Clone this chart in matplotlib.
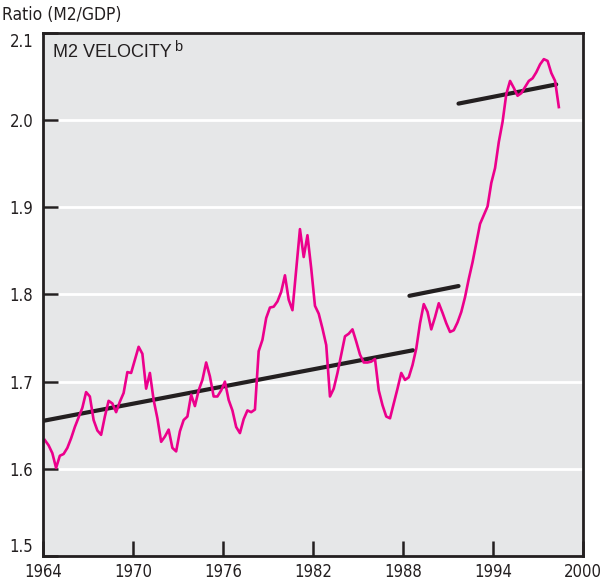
import matplotlib
matplotlib.use("Agg")
import matplotlib.pyplot as plt
from matplotlib import font_manager
import numpy as np

# condensed face for ticks and axis label, if it is there
narrow = None
for f in font_manager.fontManager.ttflist:
    if 'Narrow' in f.name or ('Condensed' in f.fname and 'Bold' not in f.fname and 'Oblique' not in f.fname and 'Sans' in f.name):
        narrow = f
        break

plt.rcParams['font.family'] = ['Liberation Sans', 'DejaVu Sans']

# quarterly M2 velocity, first quarter 1964 onwards
start_year = 1964
m2_velocity = [
    1.633, 1.627, 1.618, 1.601, 1.615, 1.617, 1.624, 1.635,
    1.648, 1.659, 1.670, 1.688, 1.683, 1.656, 1.644, 1.639,
    1.660, 1.678, 1.675, 1.665, 1.677, 1.687, 1.711, 1.710,
    1.725, 1.740, 1.732, 1.692, 1.710, 1.679, 1.658, 1.631,
    1.637, 1.645, 1.624, 1.620, 1.643, 1.656, 1.660, 1.685,
    1.672, 1.690, 1.702, 1.722, 1.706, 1.683, 1.683, 1.690,
    1.700, 1.679, 1.667, 1.648, 1.641, 1.657, 1.667, 1.665,
    1.668, 1.735, 1.748, 1.773, 1.785, 1.786, 1.792, 1.803,
    1.822, 1.794, 1.782, 1.828, 1.875, 1.843, 1.868, 1.830,
    1.787, 1.778, 1.761, 1.742, 1.683, 1.692, 1.710, 1.731,
    1.752, 1.755, 1.760, 1.746, 1.731, 1.722, 1.722, 1.723,
    1.726, 1.690, 1.673, 1.660, 1.658, 1.675, 1.692, 1.710,
    1.702, 1.705, 1.719, 1.738, 1.767, 1.789, 1.780, 1.760,
    1.774, 1.790, 1.779, 1.767, 1.757, 1.759, 1.768, 1.780,
    1.797, 1.818, 1.837, 1.859, 1.881, 1.891, 1.901, 1.928,
    1.945, 1.975, 1.998, 2.030, 2.045, 2.037, 2.028, 2.031,
    2.038, 2.045, 2.048, 2.055, 2.064, 2.070, 2.068, 2.054,
    2.045, 2.015,
]

# trend segments: (start year, end year), (start value, end value)
trend_years = [(1964.0, 1988.65), (1988.42, 1991.69), (1991.69, 1998.2)]
trend_values = [(1.655, 1.736), (1.7985, 1.8097), (2.019, 2.041)]

xticks = [1964, 1970, 1976, 1982, 1988, 1994, 2000]
yticks = [1.5, 1.6, 1.7, 1.8, 1.9, 2.0, 2.1]

dark = '#231f20'
pink = '#ec008c'

years = start_year + 0.125 + 0.25 * np.arange(len(m2_velocity))

if narrow is not None:
    lab_font = font_manager.FontProperties(fname=narrow.fname, size=12)
else:
    lab_font = font_manager.FontProperties(family=['Liberation Sans'], size=11)

fig = plt.figure(figsize=(6.05, 5.86), dpi=100)
ax = fig.add_axes([0.071, 0.0512, 0.893, 0.8925])
ax.set_facecolor('#e6e7e8')

for yv in yticks[1:-1]:
    ax.axhline(yv, color='white', lw=2, zorder=1)

for (x0, x1), (y0, y1) in zip(trend_years, trend_values):
    ax.plot([x0, x1], [y0, y1], color=dark, lw=3, solid_capstyle='round', zorder=3)

ax.plot(years, m2_velocity, color=pink, lw=1.9, zorder=4)

ax.set_xlim(1964, 2000)
ax.set_ylim(1.5, 2.1)
ax.set_xticks(xticks)
ax.set_xticklabels([str(v) for v in xticks], fontproperties=lab_font)
ax.set_yticks(yticks)
ax.set_yticklabels([f'{v:.1f}' for v in yticks], fontproperties=lab_font)
ax.tick_params(direction='in', length=10.5, width=1.8, color=dark,
               labelcolor=dark, pad=7)
ax.tick_params(axis='x', pad=5)
for s in ax.spines.values():
    s.set_linewidth(2)
    s.set_color(dark)
    s.set_zorder(5)

ylabels = ax.get_yticklabels()
ylabels[0].set_va('bottom')
ylabels[-1].set_va('top')

t = ax.text(0.0185, 0.978, 'M2 VELOCITY', transform=ax.transAxes, fontsize=13,
            color=dark, va='top', ha='left')
ax.annotate('b', xy=(1, 1), xycoords=t, xytext=(2, 3), textcoords='offset points',
            fontsize=10.5, color=dark, va='top', ha='left')

lab_font2 = lab_font.copy()
lab_font2.set_size(lab_font.get_size() + 0.5)
fig.text(0.004, 0.99, 'Ratio (M2/GDP)', fontproperties=lab_font2, color=dark,
         va='top', ha='left')

fig.savefig('out.png', dpi=100)
